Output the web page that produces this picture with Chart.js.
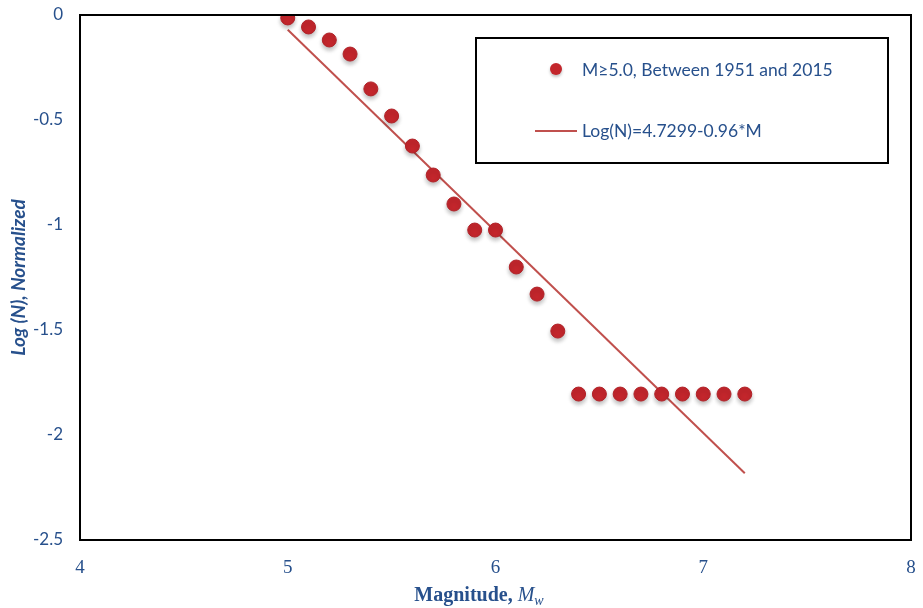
<!DOCTYPE html>
<html>
<head>
<meta charset="utf-8">
<script src="https://cdn.jsdelivr.net/npm/chart.js@4/dist/chart.umd.min.js"></script>
<style>
  html, body { margin: 0; padding: 0; background: #fff; }
</style>
</head>
<body>
<canvas id="gr" width="923" height="608"></canvas>
<script>
// magnitude bins and normalized log counts
const magnitudes = [5.0, 5.1, 5.2, 5.3, 5.4, 5.5, 5.6, 5.7, 5.8, 5.9, 6.0, 6.1, 6.2, 6.3, 6.4, 6.5, 6.6, 6.7, 6.8, 6.9, 7.0, 7.1, 7.2];
const logN = [-0.014, -0.057, -0.119, -0.186, -0.352, -0.481, -0.624, -0.762, -0.9, -1.024, -1.024, -1.2, -1.329, -1.505,
  -1.805, -1.805, -1.805, -1.805, -1.805, -1.805, -1.805, -1.805, -1.805];
// fitted line end points
const fitM = [5.0, 7.2];
const fitLog = [-0.0701, -2.1821];
const xTicks = [4, 5, 6, 7, 8];
const yTicks = [0, -0.5, -1, -1.5, -2, -2.5];

const blue = '#27508c';
const pointRed = '#c3262c';
const lineRed = '#c0504d';

const legendBox = {
  id: 'legendBox',
  afterDraw(chart) {
    const ctx = chart.ctx;
    ctx.save();
    ctx.strokeStyle = '#000';
    ctx.lineWidth = 2;
    ctx.strokeRect(476, 38, 412, 125);
    // marker
    ctx.shadowColor = 'rgba(0,0,0,0.25)';
    ctx.shadowBlur = 3;
    ctx.shadowOffsetY = 2;
    ctx.fillStyle = pointRed;
    ctx.beginPath();
    ctx.arc(556, 69, 6, 0, Math.PI * 2);
    ctx.fill();
    ctx.shadowColor = 'transparent';
    ctx.strokeStyle = lineRed;
    ctx.lineWidth = 2;
    ctx.beginPath();
    ctx.moveTo(535, 131);
    ctx.lineTo(577, 131);
    ctx.stroke();
    ctx.fillStyle = blue;
    ctx.font = '17.5px Lato, "Open Sans", sans-serif';
    ctx.textBaseline = 'middle';
    ctx.fillText(chart.data.datasets[0].label, 582, 70);
    ctx.fillText(chart.data.datasets[1].label, 582, 131);
    ctx.restore();
  }
};

const frame = {
  id: 'frame',
  afterDraw(chart) {
    const a = chart.chartArea;
    const ctx = chart.ctx;
    ctx.save();
    ctx.strokeStyle = '#000';
    ctx.lineWidth = 2;
    ctx.strokeRect(a.left, a.top, a.right - a.left, a.bottom - a.top);
    // x title: bold serif with italic M_w
    ctx.fillStyle = blue;
    ctx.textBaseline = 'alphabetic';
    ctx.font = 'bold 20px "Liberation Serif", "DejaVu Serif", serif';
    const t1 = 'Magnitude, ';
    const w1 = ctx.measureText(t1).width;
    ctx.font = 'italic 20px "Liberation Serif", serif';
    const w2 = ctx.measureText('M').width;
    ctx.font = 'italic 14px "Liberation Serif", serif';
    const w3 = ctx.measureText('w').width;
    let x = 479 - (w1 + w2 + w3) / 2;
    const y = 601;
    ctx.font = 'bold 20px "Liberation Serif", "DejaVu Serif", serif';
    ctx.fillText(t1, x, y);
    x += w1;
    ctx.font = 'italic 20px "Liberation Serif", serif';
    ctx.fillText('M', x, y);
    x += w2;
    ctx.font = 'italic 14px "Liberation Serif", serif';
    ctx.fillText('w', x, y + 4);
    ctx.restore();
  }
};

const shadow = {
  id: 'shadow',
  beforeDatasetDraw(chart, args) {
    if (args.index === 0) {
      chart.ctx.save();
      chart.ctx.shadowColor = 'rgba(0,0,0,0.25)';
      chart.ctx.shadowBlur = 4;
      chart.ctx.shadowOffsetY = 3;
    }
  },
  afterDatasetDraw(chart, args) {
    if (args.index === 0) chart.ctx.restore();
  }
};

new Chart(document.getElementById('gr'), {
  type: 'scatter',
  data: {
    datasets: [
      {
        label: 'M≥5.0, Between 1951 and 2015',
        data: magnitudes.map((m, i) => ({ x: m, y: logN[i] })),
        backgroundColor: pointRed,
        borderColor: '#b02228',
        borderWidth: 1,
        pointRadius: 7,
        order: 1
      },
      {
        label: 'Log(N)=4.7299-0.96*M',
        type: 'line',
        data: fitM.map((m, i) => ({ x: m, y: fitLog[i] })),
        borderColor: lineRed,
        borderWidth: 2,
        pointRadius: 0,
        fill: false,
        order: 2
      }
    ]
  },
  options: {
    responsive: false,
    animation: false,
    layout: { padding: { top: 15, right: 12, left: 0, bottom: 0 } },
    plugins: {
      legend: { display: false },
      tooltip: { enabled: false }
    },
    scales: {
      x: {
        type: 'linear',
        min: 4,
        max: 8,
        afterBuildTicks: s => { s.ticks = xTicks.map(v => ({ value: v })); },
        grid: { display: false, drawTicks: false },
        border: { display: false },
        ticks: {
          padding: 17,
          color: blue,
          callback: v => String(v),
          font: { family: '"Liberation Serif", serif', size: 19 }
        },
        afterFit: s => { s.height = 68; s.paddingLeft = 0; s.paddingRight = 0; }
      },
      y: {
        type: 'linear',
        min: -2.5,
        max: 0,
        afterBuildTicks: s => { s.ticks = yTicks.map(v => ({ value: v })); },
        grid: { display: false, drawTicks: false },
        border: { display: false },
        ticks: {
          padding: 17,
          color: blue,
          callback: v => String(v),
          font: { family: 'Lato, "Open Sans", sans-serif', size: 17 }
        },
        title: {
          display: true,
          text: 'Log (N), Normalized',
          color: blue,
          padding: { top: 7, bottom: 0 },
          font: { family: 'Lato, "Open Sans", sans-serif', size: 19, style: 'italic', weight: 'bold' }
        },
        afterFit: s => { s.width = 80; s.paddingTop = 0; s.paddingBottom = 0; }
      }
    }
  },
  plugins: [shadow, frame, legendBox]
});
</script>
</body>
</html>
